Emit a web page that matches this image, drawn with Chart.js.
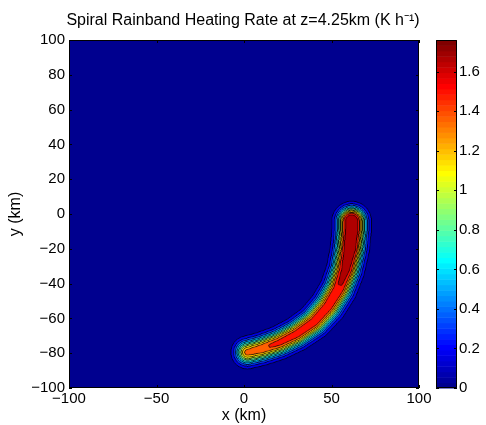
<!DOCTYPE html>
<html>
<head>
<meta charset="utf-8">
<script src="https://cdn.jsdelivr.net/npm/chart.js@4"></script>
<style>
  html, body { margin: 0; padding: 0; background: #ffffff; }
  canvas { display: block; }
</style>
</head>
<body>
<canvas id="chart" width="486" height="425"></canvas>
<script>
// Axis ticks
const xTickValues = [-100, -50, 0, 50, 100];
const yTickValues = [-100, -80, -60, -40, -20, 0, 20, 40, 60, 80, 100];
const colorTickValues = [0, 0.2, 0.4, 0.6, 0.8, 1, 1.2, 1.4, 1.6];

// Filled-contour levels (K/h) and colour limit
const contourLevels = [0.15, 0.3, 0.45, 0.6, 0.75, 0.9, 1.05, 1.2, 1.35, 1.5, 1.65];
const colorMax = 1.76;

// Rainband axis (km), peak heating along it (K/h),
// half-width of the outer edge (km) and half-width of the flat core (km)
const bandX = [2, 10, 20, 30, 40, 48, 54, 58, 60.5, 61.5, 61.5];
const bandY = [-79.5, -77.5, -74, -69, -62, -53, -43, -32, -20, -9, -4];
const bandPeak = [1.40, 1.47, 1.54, 1.58, 1.61, 1.62, 1.64, 1.69, 1.74, 1.76, 1.75];
const bandHalfWidth = [9.5, 9.6, 9.8, 10.0, 10.3, 10.6, 10.8, 11.0, 11.2, 11.3, 11.3];
const bandCoreHalfWidth = [0.4, 0.5, 0.5, 0.5, 0.5, 0.6, 0.8, 1.2, 1.8, 2.0, 2.0];

const FONT = "'Liberation Sans', Arial, Helvetica, sans-serif";
const SUPERSAMPLE = 3;

// MATLAB-style 64-entry jet colormap, 1-based row
function jetRow(r) {
  const b = r <= 8 ? (r + 8) / 16 : r <= 24 ? 1 : r <= 39 ? (40 - r) / 16 : 0;
  const g = r <= 8 ? 0 : r <= 24 ? (r - 8) / 16 : r <= 40 ? 1 : r <= 55 ? (56 - r) / 16 : 0;
  const rd = r <= 24 ? 0 : r <= 40 ? (r - 24) / 16 : r <= 56 ? 1 : (72 - r) / 16;
  return [Math.round(rd * 255), Math.round(g * 255), Math.round(b * 255)];
}
function rowForValue(v) {
  return Math.max(1, Math.min(64, Math.floor(v / colorMax * 64) + 1));
}

// Heating rate at (x, y): strongest contribution of any axis segment
function heating(x, y) {
  let v = 0;
  const base = contourLevels[0];
  for (let i = 0; i < bandX.length - 1; i++) {
    const ax = bandX[i], ay = bandY[i];
    const dx = bandX[i + 1] - ax, dy = bandY[i + 1] - ay;
    let t = ((x - ax) * dx + (y - ay) * dy) / (dx * dx + dy * dy);
    t = t < 0 ? 0 : t > 1 ? 1 : t;
    const d = Math.hypot(x - (ax + t * dx), y - (ay + t * dy));
    const H = bandHalfWidth[i] + t * (bandHalfWidth[i + 1] - bandHalfWidth[i]);
    if (d > 1.6 * H) continue;
    const P = bandPeak[i] + t * (bandPeak[i + 1] - bandPeak[i]);
    const core = bandCoreHalfWidth[i] + t * (bandCoreHalfWidth[i + 1] - bandCoreHalfWidth[i]);
    const s = (H - core) / Math.sqrt(Math.log(P / base));
    const e = Math.max(0, d - core) / s;
    const val = P * Math.exp(-e * e);
    if (val > v) v = val;
  }
  return v;
}

const fmt = v => (v < 0 ? '\u2212' : '') + String(Math.round(Math.abs(v) * 10) / 10);

const contourPlugin = {
  id: 'contourField',
  beforeDatasetsDraw(chart) {
    const { ctx, chartArea: a, scales: { x: xs, y: ys } } = chart;
    const S = SUPERSAMPLE;
    const L = Math.round(a.left), T = Math.round(a.top);
    const W = Math.round(a.right) - L, H = Math.round(a.bottom) - T;
    const w = W * S, h = H * S;
    // band index of every fine pixel
    const band = new Uint8Array(w * h);
    for (let j = 0; j < h; j++) {
      const yv = ys.getValueForPixel(T + (j + 0.5) / S);
      for (let i = 0; i < w; i++) {
        const v = heating(xs.getValueForPixel(L + (i + 0.5) / S), yv);
        let k = 0;
        while (k < contourLevels.length && v >= contourLevels[k]) k++;
        band[j * w + i] = k;
      }
    }
    // each filled band takes the colour of its lower level; band edges become black contour lines
    const bandColors = [jetRow(1)].concat(contourLevels.map(l => jetRow(rowForValue(l))));
    const off = document.createElement('canvas');
    off.width = w; off.height = h;
    const octx = off.getContext('2d');
    const img = octx.createImageData(w, h);
    for (let j = 0; j < h; j++) {
      for (let i = 0; i < w; i++) {
        const p = j * w + i;
        const k = band[p];
        const edge = (i + 1 < w && band[p + 1] !== k) || (i > 0 && band[p - 1] !== k) ||
                     (j + 1 < h && band[p + w] !== k) || (j > 0 && band[p - w] !== k);
        const c = edge ? [0, 0, 0] : bandColors[k];
        img.data[p * 4] = c[0]; img.data[p * 4 + 1] = c[1]; img.data[p * 4 + 2] = c[2]; img.data[p * 4 + 3] = 255;
      }
    }
    octx.putImageData(img, 0, 0);
    ctx.save();
    ctx.imageSmoothingEnabled = true;
    ctx.imageSmoothingQuality = 'high';
    ctx.drawImage(off, L, T, W, H);
    ctx.restore();
  },
  afterDraw(chart) {
    const { ctx, chartArea: a, scales: { x: xs, y: ys, cb } } = chart;
    const tk = 3;
    ctx.save();
    ctx.strokeStyle = '#000000';
    ctx.lineWidth = 1;
    // axes box with inward ticks
    ctx.beginPath();
    ctx.rect(a.left + 0.5, a.top + 0.5, a.right - a.left - 1, a.bottom - a.top - 1);
    xTickValues.forEach(v => {
      const px = Math.round(xs.getPixelForValue(v)) + 0.5;
      ctx.moveTo(px, a.bottom); ctx.lineTo(px, a.bottom - tk);
      ctx.moveTo(px, a.top); ctx.lineTo(px, a.top + tk);
    });
    yTickValues.forEach(v => {
      const py = Math.round(ys.getPixelForValue(v)) + 0.5;
      ctx.moveTo(a.left, py); ctx.lineTo(a.left + tk, py);
      ctx.moveTo(a.right, py); ctx.lineTo(a.right - tk, py);
    });
    ctx.stroke();

    // colour bar
    const bl = cb.left + 17, br = cb.left + 38;
    for (let r = 0; r < 64; r++) {
      const y0 = cb.getPixelForValue(r / 64 * colorMax);
      const y1 = cb.getPixelForValue((r + 1) / 64 * colorMax);
      const c = jetRow(r + 1);
      ctx.fillStyle = `rgb(${c[0]},${c[1]},${c[2]})`;
      ctx.fillRect(bl, y1, br - bl, y0 - y1 + 0.5);
    }
    const ct = cb.getPixelForValue(colorMax), cbm = cb.getPixelForValue(0);
    ctx.beginPath();
    ctx.rect(bl + 0.5, Math.round(ct) + 0.5, br - bl - 1, Math.round(cbm - ct) - 1);
    colorTickValues.forEach(v => {
      const py = Math.round(cb.getPixelForValue(v)) + 0.5;
      ctx.moveTo(bl, py); ctx.lineTo(bl + tk, py);
      ctx.moveTo(br, py); ctx.lineTo(br - tk, py);
    });
    ctx.stroke();
    ctx.restore();
  }
};

new Chart(document.getElementById('chart'), {
  type: 'scatter',
  data: {
    datasets: [{
      data: bandX.map((x, i) => ({ x, y: bandY[i] })),
      pointRadius: 0,
      pointHoverRadius: 0,
      borderWidth: 0,
      showLine: false
    }]
  },
  options: {
    responsive: false,
    animation: false,
    devicePixelRatio: 1,
    events: [],
    layout: { padding: 0, autoPadding: false },
    plugins: {
      legend: { display: false },
      tooltip: { enabled: false },
      title: {
        display: true,
        text: 'Spiral Rainband Heating Rate at z=4.25km (K h\u207B\u00B9)',
        color: '#000000',
        font: { family: FONT, size: 16, weight: 'normal' },
        padding: { top: 11, bottom: 9.8 }
      }
    },
    scales: {
      x: {
        type: 'linear', position: 'bottom', min: -100, max: 100,
        afterBuildTicks: s => { s.ticks = xTickValues.map(v => ({ value: v })); },
        afterFit: s => { s.height = 37; },
        grid: { display: false, drawTicks: false },
        border: { display: false },
        ticks: { color: '#000000', font: { family: FONT, size: 15 }, padding: 2, maxRotation: 0, autoSkip: false, callback: fmt },
        title: { display: true, text: 'x (km)', color: '#000000', font: { family: FONT, size: 16 }, padding: { top: 0, bottom: 0 } }
      },
      y: {
        type: 'linear', position: 'left', min: -100, max: 100,
        afterBuildTicks: s => { s.ticks = yTickValues.map(v => ({ value: v })); },
        afterFit: s => { s.width = 69; },
        grid: { display: false, drawTicks: false },
        border: { display: false },
        ticks: { color: '#000000', font: { family: FONT, size: 15 }, padding: 4, autoSkip: false, callback: fmt },
        title: { display: true, text: 'y (km)', color: '#000000', font: { family: FONT, size: 16 }, padding: { top: 6, bottom: 0 } }
      },
      cb: {
        type: 'linear', position: 'right', min: 0, max: colorMax,
        afterBuildTicks: s => { s.ticks = colorTickValues.map(v => ({ value: v })); },
        afterFit: s => { s.width = 67; },
        grid: { display: false, drawTicks: true, tickLength: 38 },
        border: { display: false },
        ticks: { color: '#000000', font: { family: FONT, size: 15 }, padding: 2, autoSkip: false, callback: fmt }
      }
    }
  },
  plugins: [contourPlugin]
});
</script>
</body>
</html>
